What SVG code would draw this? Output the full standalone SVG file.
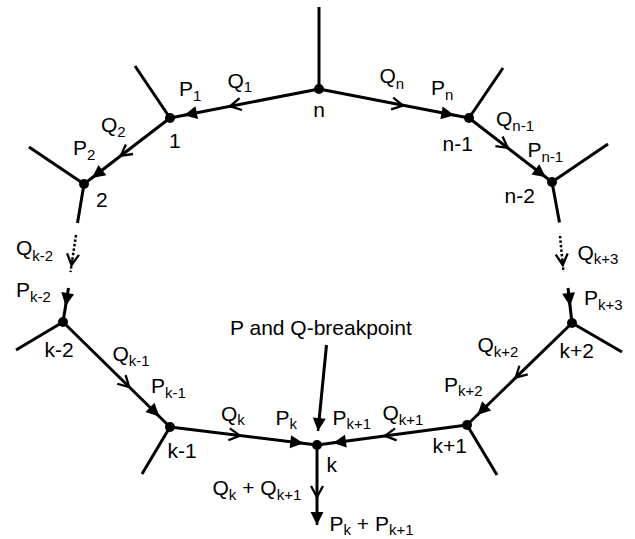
<svg xmlns="http://www.w3.org/2000/svg" width="635" height="539" viewBox="0 0 635 539">
<style>
.e{stroke:#000;stroke-width:3;fill:none;stroke-linecap:butt}
.d{stroke:#000;stroke-width:2.5;fill:none;stroke-dasharray:2.5 2}
.q{stroke:#000;stroke-width:2.5;fill:none;marker-end:url(#open)}
.p{stroke:#000;stroke-width:2.5;fill:none;marker-end:url(#fill)}
.n{fill:#000}
text{font-family:"Liberation Sans",Arial,sans-serif;font-size:21px;fill:#000}
.s{font-size:15px}
</style>
<defs>
<marker id="open" viewBox="-14 -8 16 16" markerWidth="16" markerHeight="16" refX="0" refY="0" orient="auto" markerUnits="userSpaceOnUse">
<path d="M-11,-6 L0,0 L-11,6" fill="none" stroke="#000" stroke-width="2.3"/>
</marker>
<marker id="fill" viewBox="-14 -8 16 16" markerWidth="16" markerHeight="16" refX="0" refY="0" orient="auto" markerUnits="userSpaceOnUse">
<path d="M-13,-6.5 L0,0 L-13,6.5 Z" fill="#000"/>
</marker>
</defs>
<g id="connectors">
<line class="e" x1="319" y1="89" x2="319" y2="7"/>
<line class="e" x1="170" y1="118" x2="135" y2="66"/>
<line class="e" x1="84" y1="184" x2="29" y2="147"/>
<line class="e" x1="469" y1="118" x2="503" y2="68"/>
<line class="e" x1="552" y1="182" x2="608" y2="144"/>
<line class="e" x1="63" y1="322" x2="16" y2="350"/>
<line class="e" x1="170" y1="427" x2="142" y2="474"/>
<line class="e" x1="467" y1="425" x2="497" y2="475"/>
<line class="e" x1="572" y1="323" x2="622" y2="352"/>
<line class="e" x1="319" y1="89" x2="170" y2="118"/>
<path class="q" d="M234.9,105.3 L230,106.3"/>
<path class="p" d="M188.9,114.3 L184,115.3"/>
<line class="e" x1="319" y1="89" x2="469" y2="118"/>
<path class="q" d="M398.1,104.6 L403,105.5"/>
<path class="p" d="M449.4,114.3 L454.3,115.2"/>
<line class="e" x1="170" y1="118" x2="84" y2="184"/>
<path class="q" d="M124.7,152.8 L120.7,155.8"/>
<path class="p" d="M96,174.9 L92,177.9"/>
<line class="e" x1="469" y1="118" x2="552" y2="182"/>
<path class="q" d="M503.8,144.9 L507.8,147.9"/>
<path class="p" d="M541.8,174.2 L545.8,177.2"/>
<line class="e" x1="84" y1="184" x2="77.5" y2="223"/>
<line class="d" x1="76" y1="235" x2="70.5" y2="272"/>
<path class="q" d="M72.2,260 L71.5,265"/>
<line class="e" x1="68.5" y1="288" x2="63" y2="322"/>
<path class="p" d="M66.4,301.1 L65.6,306"/>
<line class="e" x1="552" y1="182" x2="559.5" y2="222.5"/>
<line class="d" x1="560" y1="236" x2="563.5" y2="272"/>
<path class="q" d="M562.3,260 L562.8,265"/>
<line class="e" x1="568" y1="288" x2="572" y2="323"/>
<path class="p" d="M569.5,301 L570.1,306"/>
<line class="e" x1="63" y1="322" x2="170" y2="427"/>
<path class="q" d="M125.7,383.6 L129.3,387.1"/>
<path class="p" d="M155.7,413 L159.3,416.5"/>
<line class="e" x1="170" y1="427" x2="317" y2="445"/>
<path class="q" d="M235,435 L240,435.6"/>
<path class="p" d="M298.3,442.7 L303.3,443.3"/>
<line class="e" x1="572" y1="323" x2="467" y2="425"/>
<path class="q" d="M519.3,374.2 L515.7,377.7"/>
<path class="p" d="M480.9,411.5 L477.3,415"/>
<line class="e" x1="467" y1="425" x2="317" y2="445"/>
<path class="q" d="M390,435.2 L385,435.9"/>
<path class="p" d="M338,442.2 L333,442.9"/>
<line class="e" x1="317" y1="445" x2="317" y2="520"/>
<path class="q" d="M317,492 L317,497"/>
<path class="p" d="M317,520 L317,525"/>
<line class="e" x1="326.5" y1="345" x2="318.5" y2="426"/>
<path class="p" d="M318.5,426 L318,431"/>
</g>
<g id="node-n"><circle class="n" cx="319" cy="89" r="5"/><text x="319" y="116.5" text-anchor="middle">n</text></g>
<g id="node-1"><circle class="n" cx="170" cy="118" r="5"/><text x="169" y="148">1</text></g>
<g id="node-2"><circle class="n" cx="84" cy="184" r="5"/><text x="96" y="206.5">2</text></g>
<g id="node-n-1"><circle class="n" cx="469" cy="118" r="5"/><text x="442.5" y="151">n-1</text></g>
<g id="node-n-2"><circle class="n" cx="552" cy="182" r="5"/><text x="504.5" y="203">n-2</text></g>
<g id="node-k-2"><circle class="n" cx="63" cy="322" r="5"/><text x="44.5" y="356.5">k-2</text></g>
<g id="node-k-1"><circle class="n" cx="170" cy="427" r="5"/><text x="167.5" y="458">k-1</text></g>
<g id="node-k"><circle class="n" cx="317" cy="445" r="5"/><text x="326.5" y="471.5">k</text></g>
<g id="node-k+1"><circle class="n" cx="467" cy="425" r="5"/><text x="432.5" y="453">k+1</text></g>
<g id="node-k+2"><circle class="n" cx="572" cy="323" r="5"/><text x="559.5" y="358">k+2</text></g>
<g id="labels">
<text x="227.5" y="87.5">Q<tspan class="s" dy="4.5">1</tspan></text>
<text x="179" y="95.5">P<tspan class="s" dy="5">1</tspan></text>
<text x="101" y="131.5">Q<tspan class="s" dy="5">2</tspan></text>
<text x="73" y="155">P<tspan class="s" dy="5">2</tspan></text>
<text x="379.5" y="83">Q<tspan class="s" dy="5.5">n</tspan></text>
<text x="431" y="95">P<tspan class="s" dy="4.5">n</tspan></text>
<text x="496" y="126">Q<tspan class="s" dy="4.5">n-1</tspan></text>
<text x="527.5" y="156.5">P<tspan class="s" dy="5">n-1</tspan></text>
<text x="16" y="255">Q<tspan class="s" dy="6">k-2</tspan></text>
<text x="16" y="296.5">P<tspan class="s" dy="5.5">k-2</tspan></text>
<text x="577.5" y="259.5">Q<tspan class="s" dy="4">k+3</tspan></text>
<text x="584" y="305">P<tspan class="s" dy="5">k+3</tspan></text>
<text x="112.5" y="361">Q<tspan class="s" dy="5">k-1</tspan></text>
<text x="151" y="393">P<tspan class="s" dy="5">k-1</tspan></text>
<text x="477.5" y="351.5">Q<tspan class="s" dy="5">k+2</tspan></text>
<text x="444" y="391.5">P<tspan class="s" dy="4">k+2</tspan></text>
<text x="221" y="420.5">Q<tspan class="s" dy="4.5">k</tspan></text>
<text x="275.5" y="424.5">P<tspan class="s" dy="4.5">k</tspan></text>
<text x="332.5" y="424.5">P<tspan class="s" dy="4.5">k+1</tspan></text>
<text x="382.5" y="420">Q<tspan class="s" dy="5">k+1</tspan></text>
<text x="212.5" y="495">Q<tspan class="s" dy="5">k</tspan><tspan dy="-5"> + Q</tspan><tspan class="s" dy="5">k+1</tspan></text>
<text x="329.5" y="530.5">P<tspan class="s" dy="4.5">k</tspan><tspan dy="-4.5"> + P</tspan><tspan class="s" dy="4.5">k+1</tspan></text>
<text x="230" y="335">P and Q-breakpoint</text>
</g>
</svg>
